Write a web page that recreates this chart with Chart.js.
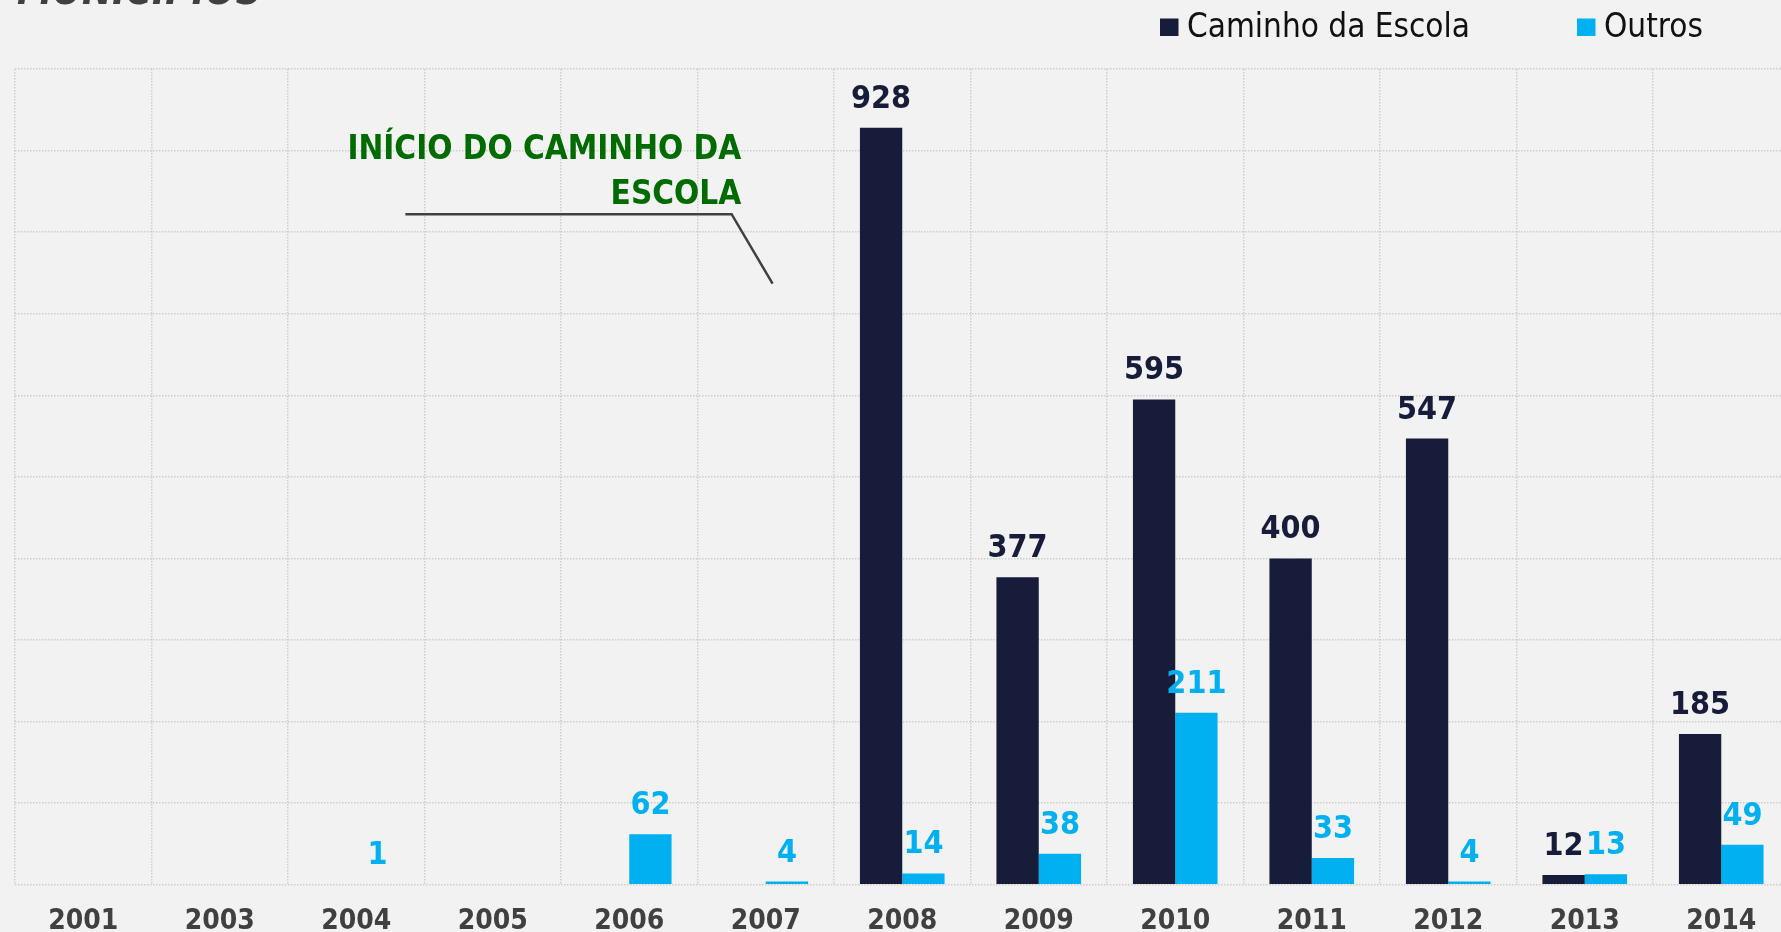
<!DOCTYPE html>
<html><head><meta charset="utf-8">
<script src="https://cdn.jsdelivr.net/npm/chart.js@4/dist/chart.umd.min.js"></script>
<style>
html,body{margin:0;padding:0;background:#f2f2f2;overflow:hidden;width:1781px;height:932px}
canvas{display:block}
</style></head>
<body><canvas id="c" width="1800" height="977"></canvas>
<script>
// ---- data ----
const categories = ['2001','2003','2004','2005','2006','2007','2008','2009','2010','2011','2012','2013','2014'];
const caminhoValues = [null,null,null,null,null,null,928,377,595,400,547,12,185];
const outrosValues  = [null,null,1,null,62,4,14,38,211,33,4,13,49];
const seriesNames = ['Caminho da Escola','Outros'];
const seriesColors = ['#161c3a','#00b0f0'];
const yMin = 0, yMax = 1000, yStep = 100;
const titleText = 'MUNICÍPIOS';
const annotationLines = ['INÍCIO DO CAMINHO DA','ESCOLA'];

// ---- styling ----
const FONT = '"DejaVu Sans Condensed", "DejaVu Sans", sans-serif';
const GRID = '#cdcdcd';

const extras = {
  id: 'extras',
  afterDatasetsDraw(chart) {
    const ctx = chart.ctx, xs = chart.scales.x, ys = chart.scales.y;
    ctx.save();
    // data labels
    ctx.font = 'bold 32px ' + FONT;
    ctx.textAlign = 'center';
    ctx.textBaseline = 'alphabetic';
    chart.data.datasets.forEach((ds, di) => {
      const meta = chart.getDatasetMeta(di);
      meta.data.forEach((bar, i) => {
        const v = ds.data[i];
        if (v === null || v === undefined) return;
        ctx.fillStyle = seriesColors[di];
        ctx.fillText(String(v), bar.x, bar.y - 20);
      });
    });
    // annotation (positioned in data space)
    ctx.fillStyle = '#006b00';
    ctx.textAlign = 'right';
    ctx.font = 'bold 33px ' + FONT;
    const ax = xs.getPixelForValue(4.82);
    ctx.fillText(annotationLines[0], ax, ys.getPixelForValue(890));
    ctx.fillText(annotationLines[1], ax, ys.getPixelForValue(834.5));
    ctx.strokeStyle = '#404040';
    ctx.lineWidth = 2.5;
    ctx.beginPath();
    ctx.moveTo(xs.getPixelForValue(2.36), ys.getPixelForValue(822));
    ctx.lineTo(xs.getPixelForValue(4.75), ys.getPixelForValue(822));
    ctx.lineTo(xs.getPixelForValue(5.05), ys.getPixelForValue(737));
    ctx.stroke();
    // title (mostly cropped at top)
    ctx.fillStyle = '#404040';
    ctx.textAlign = 'left';
    ctx.font = 'italic bold 40px ' + FONT;
    ctx.fillText(titleText, 17, 4);
    // legend
    ctx.font = '33px ' + FONT;
    const legendItems = [{x:1160}, {x:1577}];
    legendItems.forEach((it, k) => {
      ctx.fillStyle = seriesColors[k];
      ctx.fillRect(it.x, 18.5, 18.5, 17.5);
      ctx.fillStyle = '#111111';
      ctx.fillText(seriesNames[k], it.x + 27, 36.5);
    });
    ctx.restore();
  }
};

new Chart(document.getElementById('c'), {
  type: 'bar',
  data: {
    labels: categories,
    datasets: [
      { label: seriesNames[0], data: caminhoValues, backgroundColor: seriesColors[0] },
      { label: seriesNames[1], data: outrosValues,  backgroundColor: seriesColors[1] }
    ]
  },
  options: {
    responsive: false,
    animation: false,
    events: [],
    categoryPercentage: 0.62,
    barPercentage: 1.0,
    layout: { padding: { left: 15, top: 69, right: 10.5, bottom: 18.6 } },
    plugins: { legend: { display: false }, tooltip: { enabled: false }, title: { display: false } },
    scales: {
      x: {
        offset: true,
        grid: { color: GRID, lineWidth: 1.5, drawTicks: false, offset: true },
        border: { display: false, dash: [1.5, 1.5] },
        ticks: { color: '#404040', font: { family: FONT, size: 28, weight: 'bold' }, padding: 20, maxRotation: 0, autoSkip: false }
      },
      y: {
        min: yMin, max: yMax,
        grid: { color: GRID, lineWidth: 1.5, drawTicks: false },
        border: { display: false, dash: [1.5, 1.5] },
        ticks: { display: false, stepSize: yStep }
      }
    }
  },
  plugins: [extras]
});
</script>
</body></html>
